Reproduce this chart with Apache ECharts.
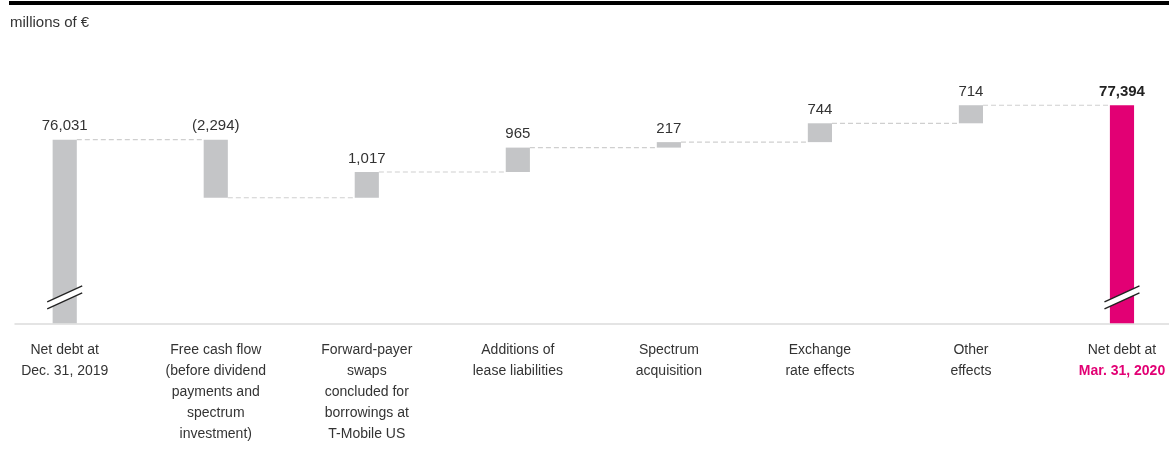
<!DOCTYPE html>
<html>
<head>
<meta charset="utf-8">
<script src="https://cdn.jsdelivr.net/npm/echarts@6/dist/echarts.min.js"></script>
<style>
html,body{margin:0;padding:0;background:#fff;}
#chart{width:1169px;height:476px;}
</style>
</head>
<body>
<div id="chart"></div>
<script>
// ---- data ----
const categories = [
  'Net debt at\nDec. 31, 2019',
  'Free cash flow\n(before dividend\npayments and\nspectrum\ninvestment)',
  'Forward-payer\nswaps\nconcluded for\nborrowings at\nT-Mobile US',
  'Additions of\nlease liabilities',
  'Spectrum\nacquisition',
  'Exchange\nrate effects',
  'Other\neffects',
  'Net debt at\nMar. 31, 2020'
];
const startValue = 76031;
const changes = [-2294, 1017, 965, 217, 744, 714];
const endValue = 77394;
const unitLabel = 'millions of €';

// axis range (broken axis: lower part omitted)
const Y_MIN = 68775;
const Y_MAX = 78075;

const GREY = '#c4c5c7';
const MAGENTA = '#e20074';
const FONT = "'Liberation Sans', Arial, sans-serif";

function fmt(v) {
  const s = Math.abs(v).toLocaleString('en-US');
  return v < 0 ? '(' + s + ')' : s;
}

// build waterfall rows: [index, low, high, isTotal]
const barRows = [];
const barLabels = [];
const levels = [];
barRows.push([0, Y_MIN, startValue, 0]);
barLabels.push(fmt(startValue));
let cum = startValue;
levels.push([0, cum]);
changes.forEach((c, k) => {
  const next = cum + c;
  barRows.push([k + 1, Math.min(cum, next), Math.max(cum, next), 0]);
  barLabels.push(fmt(c));
  cum = next;
  levels.push([k + 1, cum]);
});
barRows.push([categories.length - 1, Y_MIN, endValue, 1]);
barLabels.push(fmt(endValue));

const chart = echarts.init(document.getElementById('chart'), null, {renderer: 'canvas'});

function barW(api) { return api.size([1, 0])[0] * 0.16; }

const option = {
  animation: false,
  backgroundColor: '#fff',
  title: {
    text: unitLabel,
    left: 10, top: 15, padding: 0,
    textStyle: {fontFamily: FONT, fontSize: 15, fontWeight: 'normal', color: '#333'}
  },
  graphic: [{
    type: 'rect', left: 9, top: 1,
    shape: {width: 1160, height: 4},
    style: {fill: '#000'}
  }],
  grid: [
    {left: -10.8, width: 1208.3, top: 88, bottom: 152.7, outerBoundsMode: 'none', containLabel: false},
    {left: 15, right: 0, top: 88, bottom: 152.7, outerBoundsMode: 'none', containLabel: false}
  ],
  xAxis: [
    {
      type: 'category', gridIndex: 0, data: categories,
      axisLine: {show: false}, axisTick: {show: false},
      axisLabel: {
        interval: 0, margin: 16,
        fontFamily: FONT, fontSize: 14, lineHeight: 21, color: '#333',
        formatter: function (value, index) {
          if (index === categories.length - 1) {
            const parts = value.split('\n');
            return '{a|' + parts[0] + '}\n{b|' + parts[1] + '}';
          }
          return value;
        },
        rich: {
          a: {fontFamily: FONT, fontSize: 14, lineHeight: 21, color: '#333'},
          b: {fontFamily: FONT, fontSize: 14, lineHeight: 21, color: MAGENTA, fontWeight: 'bold'}
        }
      }
    },
    {
      type: 'value', gridIndex: 1, min: 0, max: 1,
      axisLine: {show: true, onZero: false, lineStyle: {color: '#dcdcdc', width: 1.5}},
      axisTick: {show: false}, axisLabel: {show: false}, splitLine: {show: false}
    }
  ],
  yAxis: [
    {type: 'value', gridIndex: 0, min: Y_MIN, max: Y_MAX, show: false, splitLine: {show: false}},
    {type: 'value', gridIndex: 1, min: 0, max: 1, show: false, splitLine: {show: false}}
  ],
  series: [
    {
      type: 'custom', name: 'connectors', xAxisIndex: 0, yAxisIndex: 0, z: 1,
      data: levels,
      renderItem: function (params, api) {
        const i = api.value(0), lv = api.value(1);
        const half = barW(api) / 2;
        const a = api.coord([i, lv]);
        const b = api.coord([i + 1, lv]);
        return {
          type: 'line',
          shape: {x1: a[0] + half, y1: a[1], x2: b[0] - half, y2: b[1]},
          style: {stroke: '#cfcfcf', lineWidth: 1.2, lineDash: [5, 3]}
        };
      }
    },
    {
      type: 'custom', name: 'bars', xAxisIndex: 0, yAxisIndex: 0, z: 2,
      data: barRows,
      renderItem: function (params, api) {
        const i = api.value(0), lo = api.value(1), hi = api.value(2), total = api.value(3);
        const w = barW(api);
        const top = api.coord([i, hi]);
        const bot = api.coord([i, lo]);
        const isEnd = total === 1;
        return {
          type: 'rect',
          shape: {x: top[0] - w / 2, y: top[1], width: w, height: bot[1] - top[1]},
          style: {fill: isEnd ? MAGENTA : GREY},
          textContent: {
            style: {
              text: barLabels[params.dataIndex],
              fontFamily: FONT, fontSize: 15,
              fontWeight: isEnd ? 'bold' : 'normal',
              fill: isEnd ? '#222' : '#333'
            }
          },
          textConfig: {position: 'top', distance: 6}
        };
      }
    },
    {
      type: 'custom', name: 'breaks', xAxisIndex: 0, yAxisIndex: 0, z: 3,
      data: [[0], [categories.length - 1]],
      renderItem: function (params, api) {
        const i = api.value(0);
        const p = api.coord([i, Y_MIN]);
        const cx = p[0], cy = p[1] - 26;
        const hx = 17.5, hy = 8, g = 3.5;
        return {
          type: 'group',
          children: [
            {type: 'polygon', shape: {points: [
              [cx - hx, cy + hy - g], [cx + hx, cy - hy - g],
              [cx + hx, cy - hy + g], [cx - hx, cy + hy + g]
            ]}, style: {fill: '#fff'}},
            {type: 'line', shape: {x1: cx - hx, y1: cy + hy - g, x2: cx + hx, y2: cy - hy - g},
              style: {stroke: '#222', lineWidth: 1.3}},
            {type: 'line', shape: {x1: cx - hx, y1: cy + hy + g, x2: cx + hx, y2: cy - hy + g},
              style: {stroke: '#222', lineWidth: 1.3}}
          ]
        };
      }
    }
  ]
};
chart.setOption(option);
</script>
</body>
</html>
